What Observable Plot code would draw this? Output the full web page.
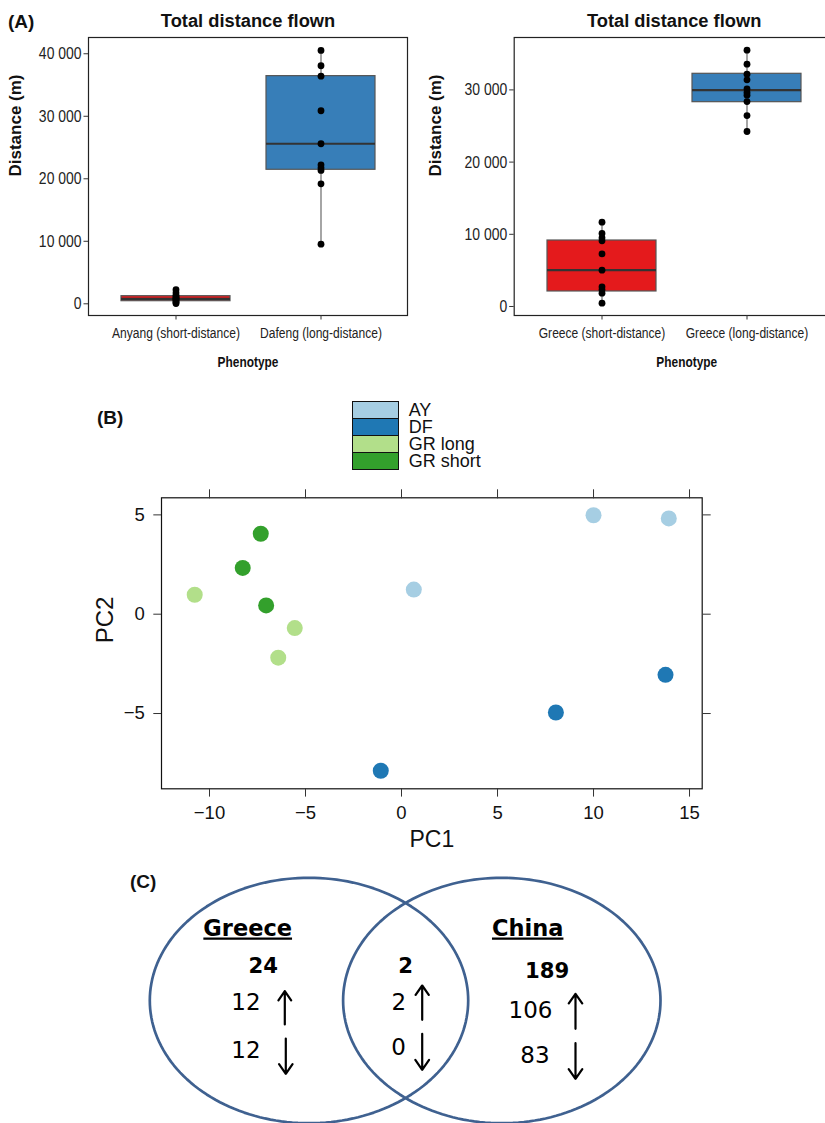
<!DOCTYPE html>
<html><head><meta charset="utf-8">
<script src="https://cdn.jsdelivr.net/npm/d3@7"></script>
<script src="https://cdn.jsdelivr.net/npm/@observablehq/plot@0.6"></script>
<style>
html,body{margin:0;padding:0;background:#fff;overflow:hidden;}
#fig{position:relative;width:825px;height:1123px;overflow:hidden;background:#fff;font-family:"Liberation Sans",Arial,sans-serif;}
#fig > svg{position:absolute;}
.plabel{position:absolute;font-weight:bold;font-size:19px;line-height:19px;white-space:nowrap;color:#111;}
.key{position:absolute;left:352px;width:47px;height:18px;box-sizing:border-box;border:1px solid #111;}
.keytxt{position:absolute;left:408.7px;font-size:18px;line-height:16px;white-space:nowrap;color:#111;}
</style></head><body><div id="fig"></div>
<script>
// ---------- (A) total distance flown ----------
const chinaPhenotypes = ["Anyang (short-distance)", "Dafeng (long-distance)"];
const anyangDistance = [2250, 1750, 1350, 1100, 950, 800, 650, 450, 250, 50];
const dafengDistance = [40530, 38080, 36420, 30880, 25600, 22240, 21760, 21330, 19200, 9540];
const chinaQ1 = [420, 21440];
const chinaMedian = [800, 25600];
const chinaQ3 = [1220, 36420];
const chinaWhiskerLow = [50, 9540];
const chinaWhiskerHigh = [2250, 40530];

const greecePhenotypes = ["Greece (short-distance)", "Greece (long-distance)"];
const greeceShortDistance = [11680, 10110, 9510, 9100, 7300, 5030, 2730, 2310, 1840, 460];
const greeceLongDistance = [35500, 33560, 32170, 31400, 30150, 29640, 29270, 28390, 26450, 24240];
const greeceQ1 = [2080, 28300];
const greeceMedian = [5030, 29960];
const greeceQ3 = [9140, 32230];
const greeceWhiskerLow = [460, 24240];
const greeceWhiskerHigh = [11680, 35500];

const boxFills = ["#e41a1c", "#377eb8"];
const chinaDistanceTicks = [0, 10000, 20000, 30000, 40000];
const greeceDistanceTicks = [0, 10000, 20000, 30000];

// ---------- (B) PCA ----------
const pcaGroupNames = ["AY", "DF", "GR long", "GR short"];
const pcaColors = ["#a6cee3", "#1f78b4", "#b2df8a", "#33a02c"];
const sampleGroup = ["GR short", "GR short", "GR short", "GR long", "GR long", "GR long", "AY", "AY", "AY", "DF", "DF", "DF"];
const pc1 = [-7.33, -8.27, -7.05, -10.77, -5.56, -6.42, 0.64, 10.0, 13.92, -1.08, 8.04, 13.75];
const pc2 = [4.05, 2.33, 0.44, 0.98, -0.70, -2.19, 1.24, 4.98, 4.82, -7.88, -4.95, -3.05];
const pc1Ticks = [-10, -5, 0, 5, 10, 15];
const pc2Ticks = [-5, 0, 5];

// ---------- (C) Venn ----------
const vennSetNames = ["Greece", "China"];
const vennRegionTotal = [24, 2, 189];   // Greece only, shared, China only
const vennRegionUp = [12, 2, 106];
const vennRegionDown = [12, 0, 83];

const fig = document.getElementById("fig");
const SANS = '"Liberation Sans",Arial,sans-serif';
const fmtSpace = d => d3.format(",")(d).replace(/,/g, " ");

function place(el, left, top) { el.style.left = left + "px"; el.style.top = top + "px"; fig.appendChild(el); return el; }

// horizontally condense texts (narrow-font look) while keeping their height
function condense(svg, skip, factor) {
  d3.select(svg).selectAll("text").filter(function () { return !skip.includes(this.textContent); })
    .each(function () {
      const L = this.getComputedTextLength();
      if (L > 0) { this.setAttribute("textLength", L * factor); this.setAttribute("lengthAdjust", "spacingAndGlyphs"); }
    });
}

function distancePanel(o) {
  const stats = o.cats.map((c, i) => ({cat: c, q1: o.q1[i], med: o.med[i], q3: o.q3[i], lo: o.lo[i], hi: o.hi[i], fill: boxFills[i]}));
  const pts = o.cats.flatMap((c, i) => o.values[i].map(v => ({cat: c, v})));
  return Plot.plot({
    width: o.width, height: 375, marginLeft: o.ml, marginRight: o.mr, marginTop: 37, marginBottom: 60,
    style: {background: "transparent", overflow: "visible", fontFamily: SANS, color: "#222"},
    x: {type: "band", domain: o.cats, paddingInner: 0.25, paddingOuter: 0.225, label: null, axis: null},
    y: {domain: o.yDomain, label: null, axis: null},
    color: {type: "identity"},
    marks: [
      Plot.ruleX(stats, {x: "cat", y1: "lo", y2: "hi", stroke: "#6a6a6a", strokeWidth: 1.2}),
      Plot.barY(stats, {x: "cat", y1: "q1", y2: "q3", fill: "fill", stroke: "#555", strokeWidth: 1.2}),
      Plot.tickY(stats, {x: "cat", y: "med", stroke: "#333", strokeWidth: 2.2}),
      Plot.dot(pts, {x: "cat", y: "v", r: 3.4, fill: "#000"}),
      Plot.frame({stroke: "#222", strokeWidth: 1.2}),
      Plot.axisY({ticks: o.ticks, tickSize: 4.5, tickPadding: 2.5, tickFormat: fmtSpace, fontSize: 17, label: null, stroke: "#333"}),
      Plot.axisX({tickSize: 4.5, tickPadding: 8, fontSize: 14.7, label: null, stroke: "#333"}),
      Plot.text(["Total distance flown"], {frameAnchor: "top", dy: -11, lineAnchor: "bottom", fontWeight: "bold", fontSize: 18.3, fill: "#111"}),
      Plot.text(["Phenotype"], {frameAnchor: "bottom", dy: 51, dx: o.phenDx, lineAnchor: "bottom", fontWeight: "bold", fontSize: 14.5, fill: "#111"}),
      Plot.text(["Distance (m)"], {frameAnchor: "left", dx: o.ylabDx, rotate: -90, lineAnchor: "top", fontWeight: "bold", fontSize: 17, fill: "#111"})
    ]
  });
}

const left = distancePanel({
  cats: chinaPhenotypes, values: [anyangDistance, dafengDistance],
  q1: chinaQ1, med: chinaMedian, q3: chinaQ3, lo: chinaWhiskerLow, hi: chinaWhiskerHigh,
  yDomain: [-1870, 42600], ticks: chinaDistanceTicks, width: 415, ml: 88, mr: 8, phenDx: 0, ylabDx: -79.7
});
place(left, 0, 0);
condense(left, ["Total distance flown", "Distance (m)"], 0.82);

const right = distancePanel({
  cats: greecePhenotypes, values: [greeceShortDistance, greeceLongDistance],
  q1: greeceQ1, med: greeceMedian, q3: greeceQ3, lo: greeceWhiskerLow, hi: greeceWhiskerHigh,
  yDomain: [-1247, 37258], ticks: greeceDistanceTicks, width: 430, ml: 101.7, mr: 8.4, phenDx: 12.6, ylabDx: -85.4
});
place(right, 412, 0);
condense(right, ["Total distance flown", "Distance (m)"], 0.82);

// panel labels
const lblA = document.createElement("div"); lblA.className = "plabel"; lblA.textContent = "(A)"; place(lblA, 8, 12);
const lblB = document.createElement("div"); lblB.className = "plabel"; lblB.textContent = "(B)"; place(lblB, 97, 408);
const lblC = document.createElement("div"); lblC.className = "plabel"; lblC.textContent = "(C)"; place(lblC, 130, 872);

// ---------- PCA plot ----------
const samples = sampleGroup.map((g, i) => ({group: g, pc1: pc1[i], pc2: pc2[i]}));
const pca = Plot.plot({
  width: 640, height: 380, marginLeft: 81, marginRight: 18.3, marginTop: 19.3, marginBottom: 69.7,
  style: {background: "transparent", overflow: "visible", fontFamily: SANS, color: "#111"},
  x: {domain: [-12.5, 15.66], label: null, axis: null},
  y: {domain: [-8.79, 5.86], label: null, axis: null},
  color: {domain: pcaGroupNames, range: pcaColors},
  marks: [
    Plot.dot(samples, {x: "pc1", y: "pc2", fill: "group", r: 8}),
    Plot.frame({stroke: "#111", strokeWidth: 1.2}),
    Plot.axisX({ticks: pc1Ticks, tickSize: 8.3, tickPadding: 9, fontSize: 18.5, label: null, stroke: "#333"}),
    Plot.axisX({anchor: "top", ticks: pc1Ticks, tickSize: 9, tickFormat: () => "", label: null, stroke: "#333"}),
    Plot.axisY({ticks: pc2Ticks, tickSize: 7.7, tickPadding: 9, fontSize: 18.5, label: null, stroke: "#333"}),
    Plot.axisY({anchor: "right", ticks: pc2Ticks, tickSize: 8, tickFormat: () => "", label: null, stroke: "#333"}),
    Plot.text(["PC1"], {frameAnchor: "bottom", dy: 58.4, lineAnchor: "bottom", fontSize: 23}),
    Plot.text(["PC2"], {frameAnchor: "left", dx: -66, rotate: -90, lineAnchor: "top", fontSize: 24})
  ]
});
place(pca, 80, 478);

// legend
pcaGroupNames.forEach((g, i) => {
  const k = document.createElement("div"); k.className = "key"; k.style.background = pcaColors[i];
  place(k, 352, 400.5 + 17 * i);
  const t = document.createElement("div"); t.className = "keytxt"; t.textContent = g;
  place(t, 408.7, 401.5 + 17 * i);
});

// ---------- Venn diagram ----------
const vennEllipses = [
  {set: vennSetNames[0], cx: 308.5, cy: 140, rx: 159.2, ry: 122.7},
  {set: vennSetNames[1], cx: 501.3, cy: 140, rx: 158.7, ry: 122.7}
];
const ellipsePts = vennEllipses.flatMap(e => d3.range(0, 361, 2).map(a => ({
  set: e.set, x: e.cx + e.rx * Math.cos(a * Math.PI / 180), y: e.cy + e.ry * Math.sin(a * Math.PI / 180)
})));
const headingLayout = [{x: 247.2, y: 75}, {x: 527.2, y: 75}];
const regionLayout = [
  {tx: 262.8, ty: 112.3, ux: 245.5, uy: 149, dx: 245.5, dy: 197.3, ax1: 284.3, ay1: 164, ay2: 130.7, bx: 285.3, by1: 178, by2: 213.3},
  {tx: 405.0, ty: 112.0, ux: 398.3, uy: 149, dx: 398.0, dy: 194.3, ax1: 421.7, ay1: 159.3, ay2: 125, bx: 421.7, by1: 173.3, by2: 209.3},
  {tx: 546.7, ty: 117.3, ux: 530.0, uy: 157.7, dx: 534.5, dy: 202.7, ax1: 575, ay1: 168.3, ay2: 133.3, bx: 575, by1: 182.7, by2: 218.3}
];
const headings = vennSetNames.map((n, i) => ({name: n, ...headingLayout[i]}));
const regions = vennRegionTotal.map((t, i) => ({total: t, up: vennRegionUp[i], down: vennRegionDown[i], ...regionLayout[i]}));
const VFONT = '"DejaVu Sans",Verdana,sans-serif';
const venn = Plot.plot({
  width: 825, height: 263, margin: 0,
  style: {background: "transparent", overflow: "visible", fontFamily: VFONT},
  x: {domain: [0, 825], range: [0, 825], axis: null},
  y: {domain: [0, 263], range: [0, 263], axis: null},
  marks: [
    Plot.line(ellipsePts, {x: "x", y: "y", z: "set", stroke: "#3f6190", strokeWidth: 2.7}),
    Plot.text(headings, {x: "x", y: "y", text: "name", lineAnchor: "bottom", fontWeight: "bold", fontSize: 22.5, fill: "#000"}),
    Plot.text(regions, {x: "tx", y: "ty", text: d => String(d.total), lineAnchor: "bottom", fontWeight: "bold", fontSize: 21.2, fill: "#000"}),
    Plot.text(regions, {x: "ux", y: "uy", text: d => String(d.up), lineAnchor: "bottom", fontSize: 23, fill: "#000"}),
    Plot.text(regions, {x: "dx", y: "dy", text: d => String(d.down), lineAnchor: "bottom", fontSize: 23, fill: "#000"}),
    Plot.arrow(regions, {x1: "ax1", y1: "ay1", x2: "ax1", y2: "ay2", stroke: "#000", strokeWidth: 2.2, headLength: 10, headAngle: 70}),
    Plot.arrow(regions, {x1: "bx", y1: "by1", x2: "bx", y2: "by2", stroke: "#000", strokeWidth: 2.2, headLength: 10, headAngle: 70})
  ]
});
d3.select(venn).selectAll("text").filter(function () { return vennSetNames.includes(this.textContent); })
  .style("text-decoration", "underline");
place(venn, 0, 860);
</script></body></html>
